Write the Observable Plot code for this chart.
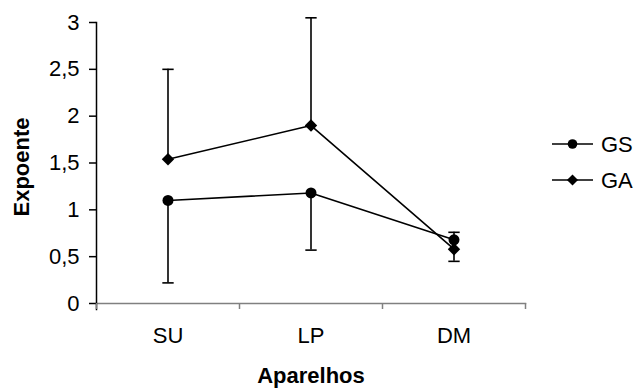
<!DOCTYPE html>
<html>
<head>
<meta charset="utf-8">
<script src="https://cdn.jsdelivr.net/npm/d3@7"></script>
<script src="https://cdn.jsdelivr.net/npm/@observablehq/plot@0.6"></script>
<style>
  html, body { margin: 0; padding: 0; background: #fff; }
  #chart { width: 639px; height: 389px; }
</style>
</head>
<body>
<div id="chart"></div>
<script>
// ---- data ----
const categories = ["SU", "LP", "DM"];
const seriesNames = ["GS", "GA"];
const gsValues = [1.10, 1.18, 0.68];
const gsLower  = [0.22, 0.57, 0.45];   // minus error bar ends
const gaValues = [1.54, 1.90, 0.58];
const gaUpper  = [2.50, 3.05, 0.76];   // plus error bar ends
const yTicks = [0, 0.5, 1, 1.5, 2, 2.5, 3];
const xLabel = "Aparelhos";
const yLabel = "Expoente";

const FONT = "'Liberation Sans', Arial, sans-serif";
const FS = 22;
const FSB = 22;

const rows = [];
categories.forEach((c, i) => {
  rows.push({series: "GS", cat: c, pos: i + 0.5, value: gsValues[i], err: gsLower[i]});
  rows.push({series: "GA", cat: c, pos: i + 0.5, value: gaValues[i], err: gaUpper[i]});
});

const capSymbol = {
  draw(ctx, size) {
    const w = Math.sqrt(size);
    ctx.moveTo(-w, 0);
    ctx.lineTo(w, 0);
  }
};

const chart = Plot.plot({
  width: 639,
  height: 389,
  marginLeft: 96,
  marginRight: 114,
  marginTop: 22,
  marginBottom: 86,
  style: {fontFamily: FONT, fontSize: FS + "px", color: "#000", background: "#fff"},
  x: {type: "linear", domain: [0, categories.length]},
  y: {domain: [0, 3]},
  marks: [
    // error bars
    Plot.ruleX(rows, {x: "pos", y1: "value", y2: "err", stroke: "#000", strokeWidth: 1.6}),
    Plot.dot(rows, {x: "pos", y: "err", symbol: () => capSymbol, r: 3.2, stroke: "#000", strokeWidth: 1.6, fill: "none"}),
    // lines
    Plot.line(rows, {x: "pos", y: "value", z: "series", stroke: "#000", strokeWidth: 1.6}),
    // markers
    Plot.dot(rows.filter(d => d.series === "GS"), {x: "pos", y: "value", r: 5.5, fill: "#000", stroke: "none", symbol: "circle"}),
    Plot.dot(rows.filter(d => d.series === "GA"), {x: "pos", y: "value", r: 5.6, fill: "#000", stroke: "none", symbol: "diamond2"}),
    // axes
    Plot.frame({anchor: "bottom", stroke: "#808080", strokeWidth: 1.5}),
    Plot.frame({anchor: "left", stroke: "#000", strokeWidth: 1.5, insetBottom: -6}),
    Plot.axisY({ticks: yTicks, tickSize: 7, tickPadding: 10, tickFormat: d => String(d).replace(".", ","), label: null, stroke: "#000", strokeWidth: 1.5, fontSize: FS}),
    Plot.axisX({ticks: d3.range(categories.length + 1), tickSize: 6, tickFormat: () => "", label: null, stroke: "#808080", strokeWidth: 1.5}),
    Plot.axisX({ticks: categories.map((c, i) => i + 0.5), tickSize: 0, tickPadding: 24, tickFormat: d => categories[Math.floor(d)], label: null, fontSize: FS}),
    // axis titles
    Plot.text([xLabel], {text: d => d, frameAnchor: "bottom", dy: 72, lineAnchor: "middle", textAnchor: "middle", fontWeight: "bold", fontSize: FSB}),
    Plot.text([yLabel], {text: d => d, frameAnchor: "left", dx: -75, dy: 4, rotate: -90, lineAnchor: "middle", textAnchor: "middle", fontWeight: "bold", fontSize: FSB})
  ]
});

document.getElementById("chart").appendChild(chart);

// ---- legend (inside the same svg) ----
const svg = d3.select(chart);
const lg = svg.append("g").attr("font-family", FONT).attr("font-size", FS).attr("text-anchor", "start");
seriesNames.forEach((name, i) => {
  const cy = 144 + i * 36;
  const g = lg.append("g").attr("transform", `translate(552,${cy})`);
  g.append("line").attr("x1", 0).attr("x2", 41).attr("y1", 0).attr("y2", 0)
    .attr("stroke", "#000").attr("stroke-width", 1.6);
  const sym = name === "GS" ? d3.symbolCircle : d3.symbolDiamond2;
  const size = name === "GS" ? Math.PI * 4.8 * 4.8 : Math.PI * 5 * 5;
  g.append("path").attr("d", d3.symbol(sym, size)()).attr("transform", "translate(20.5,0)").attr("fill", "#000");
  g.append("text").attr("x", 49).attr("y", 0).attr("dy", "0.35em").attr("fill", "#000").text(name);
});
</script>
</body>
</html>
